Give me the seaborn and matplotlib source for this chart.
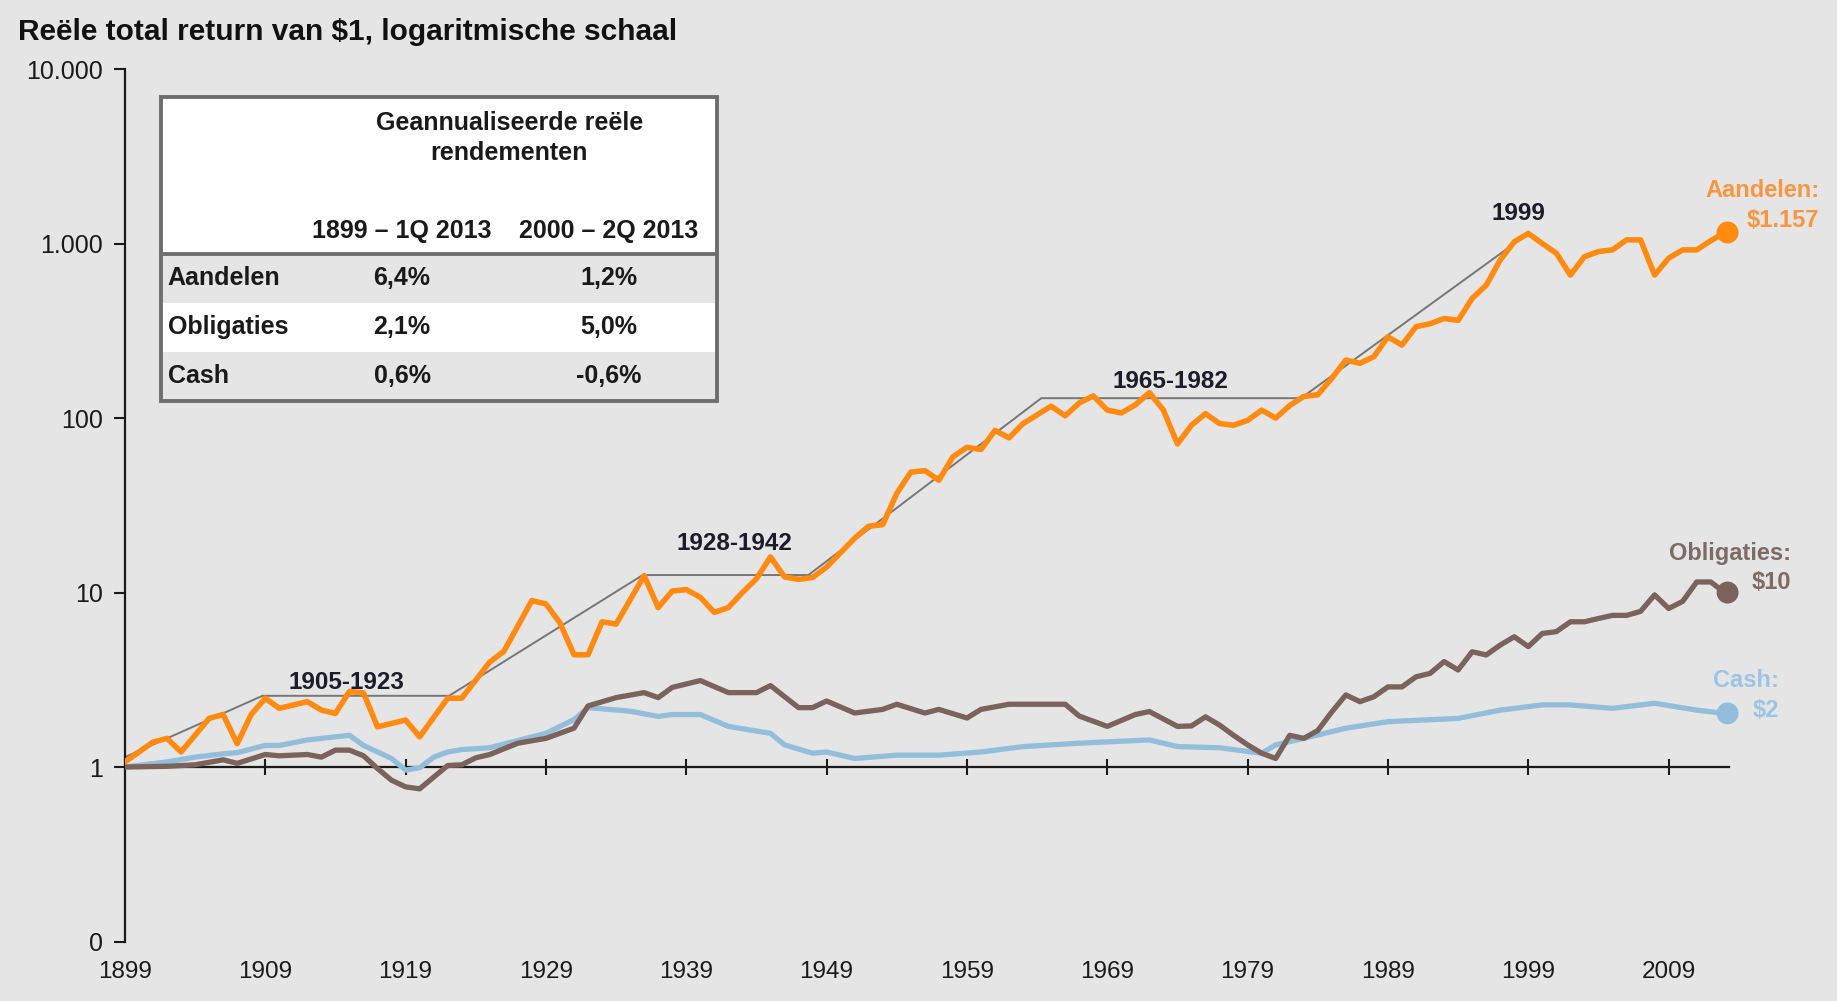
import seaborn as sns
import matplotlib.pyplot as plt
from matplotlib.patches import Rectangle
from matplotlib.ticker import FixedLocator, NullLocator

sns.set_theme(style="ticks")
plt.rcParams['font.family'] = ['Liberation Sans', 'DejaVu Sans']

# Aandelen (stocks)
stock_years = [1899, 1901, 1902, 1903, 1905, 1906, 1907, 1908, 1909, 1910, 1912, 1913,
               1914, 1915, 1916, 1917, 1919, 1920, 1922, 1923, 1925, 1926, 1928, 1929,
               1930, 1931, 1932, 1933, 1934, 1936, 1937, 1938, 1939, 1940, 1941, 1942,
               1943, 1944, 1945, 1946, 1947, 1948, 1949, 1951, 1952, 1953, 1954, 1955,
               1956, 1957, 1958, 1959, 1960, 1961, 1962, 1963, 1965, 1966, 1967, 1968,
               1969, 1970, 1971, 1972, 1973, 1974, 1975, 1976, 1977, 1978, 1979, 1980,
               1981, 1982, 1983, 1984, 1985, 1986, 1987, 1988, 1989, 1990, 1991, 1992,
               1993, 1994, 1995, 1996, 1997, 1998, 1999, 2000, 2001, 2002, 2003, 2004,
               2005, 2006, 2007, 2008, 2009, 2010, 2011, 2012, 2013]
stock_vals = [1.07, 1.39, 1.46, 1.22, 1.9, 2.0, 1.36, 2.0, 2.48, 2.17, 2.37, 2.12,
              2.03, 2.71, 2.66, 1.70, 1.86, 1.49, 2.48, 2.48, 4.0, 4.6, 9.0, 8.6,
              6.7, 4.4, 4.4, 6.8, 6.6, 12.5, 8.2, 10.2, 10.4, 9.4, 7.7, 8.2,
              10.0, 12.0, 16.0, 12.3, 11.9, 12.2, 14.0, 20.5, 24.0, 24.5, 37, 49,
              50, 44, 60, 68, 66, 85, 77, 93, 117, 103, 122, 134,
              111, 107, 119, 140, 111, 71, 91, 106, 93, 91, 97, 111,
              100, 118, 133, 136, 169, 215, 206, 225, 292, 262, 334, 347,
              372, 363, 485, 577, 805, 1024, 1143, 1000, 880, 660, 841, 900,
              920, 1050, 1050, 660, 824, 920, 920, 1038, 1157]

# Obligaties (bonds)
bond_years = [1899, 1902, 1904, 1906, 1907, 1909, 1910, 1912, 1913, 1914, 1915, 1916,
              1917, 1918, 1919, 1920, 1921, 1922, 1923, 1924, 1925, 1927, 1929, 1931,
              1932, 1934, 1936, 1937, 1938, 1940, 1942, 1944, 1945, 1947, 1948, 1949,
              1951, 1953, 1954, 1956, 1957, 1959, 1960, 1962, 1966, 1967, 1969, 1971,
              1972, 1974, 1975, 1976, 1977, 1978, 1979, 1980, 1981, 1982, 1983, 1984,
              1985, 1986, 1987, 1988, 1989, 1990, 1991, 1992, 1993, 1994, 1995, 1996,
              1997, 1998, 1999, 2000, 2001, 2002, 2003, 2004, 2005, 2006, 2007, 2008,
              2009, 2010, 2011, 2012, 2013]
bond_vals = [1.0, 1.01, 1.03, 1.10, 1.05, 1.18, 1.16, 1.18, 1.14, 1.25, 1.25, 1.16,
             0.98, 0.84, 0.77, 0.75, 0.875, 1.02, 1.03, 1.13, 1.18, 1.37, 1.46, 1.67,
             2.24, 2.5, 2.67, 2.5, 2.86, 3.13, 2.67, 2.67, 2.93, 2.19, 2.19, 2.39,
             2.04, 2.14, 2.29, 2.04, 2.14, 1.91, 2.14, 2.29, 2.29, 1.96, 1.71, 2.0,
             2.08, 1.71, 1.72, 1.94, 1.74, 1.52, 1.34, 1.20, 1.12, 1.52, 1.46, 1.62,
             2.07, 2.59, 2.37, 2.53, 2.88, 2.88, 3.29, 3.44, 4.02, 3.6, 4.58, 4.39,
             5.0, 5.58, 4.9, 5.83, 5.97, 6.8, 6.8, 7.1, 7.4, 7.4, 7.8, 9.7,
             8.1, 8.9, 11.5, 11.5, 10.0]

# Cash
cash_years = [1899, 1902, 1904, 1906, 1907, 1909, 1910, 1912, 1914, 1915, 1916, 1918,
              1919, 1920, 1921, 1922, 1923, 1925, 1927, 1929, 1931, 1932, 1935, 1937,
              1938, 1940, 1942, 1945, 1946, 1948, 1949, 1951, 1954, 1957, 1960, 1963,
              1967, 1972, 1974, 1977, 1980, 1981, 1983, 1986, 1989, 1994, 1997, 2000,
              2002, 2005, 2008, 2011, 2013]
cash_vals = [1.0, 1.07, 1.14, 1.19, 1.21, 1.33, 1.33, 1.43, 1.49, 1.52, 1.33, 1.12,
             0.96, 0.99, 1.14, 1.22, 1.26, 1.29, 1.42, 1.56, 1.87, 2.19, 2.09, 1.95,
             2.0, 2.0, 1.71, 1.56, 1.34, 1.2, 1.22, 1.12, 1.17, 1.17, 1.22, 1.31,
             1.37, 1.43, 1.31, 1.29, 1.2, 1.34, 1.46, 1.67, 1.82, 1.9, 2.12, 2.27,
             2.27, 2.17, 2.32, 2.12, 2.03]

# grey trend line with plateaus
trend_years = [1899, 1908.8, 1922.1, 1935.9, 1947.7, 1964.3, 1982.8, 1999]
trend_vals = [1.14, 2.56, 2.56, 12.6, 12.6, 130, 130, 1143]

periods = ["1905-1923", "1928-1942", "1965-1982", "1999"]
period_x = [1914.8, 1942.4, 1973.5, 1998.3]
period_y = [3.04, 19.1, 161, 1489]

x_ticks = [1899, 1909, 1919, 1929, 1939, 1949, 1959, 1969, 1979, 1989, 1999, 2009]
y_ticks = [0.1, 1, 10, 100, 1000, 10000]
y_labels = ["0", "1", "10", "100", "1.000", "10.000"]

tbl_rows = ["Aandelen", "Obligaties", "Cash"]
tbl_col1 = ["6,4%", "2,1%", "0,6%"]
tbl_col2 = ["1,2%", "5,0%", "-0,6%"]
tbl_heads = ["1899 \u2013 1Q 2013", "2000 \u2013 2Q 2013"]

bg = '#E4E5E4'
c_stock, c_bond, c_cash = '#FF8A12', '#7B625A', '#92BEDC'

fig = plt.figure(figsize=(18.37, 10.01), dpi=100, facecolor=bg)
ax = fig.add_axes([0.068, 0.0594, 0.8732, 0.8716])
ax.set_facecolor(bg)
ax.set_yscale('log')

sns.lineplot(x=trend_years, y=trend_vals, ax=ax, color='#767676', linewidth=1.4, zorder=2)
sns.lineplot(x=cash_years, y=cash_vals, ax=ax, color=c_cash, linewidth=3.8, zorder=3)
sns.lineplot(x=bond_years, y=bond_vals, ax=ax, color=c_bond, linewidth=3.8, zorder=4)
sns.lineplot(x=stock_years, y=stock_vals, ax=ax, color=c_stock, linewidth=4.0, zorder=5)

for yrs, vals, col in [(stock_years, stock_vals, c_stock), (bond_years, bond_vals, c_bond),
                       (cash_years, cash_vals, c_cash)]:
    sns.scatterplot(x=[yrs[-1] + 0.2], y=[vals[-1]], ax=ax, color=col, s=250,
                    edgecolor='none', zorder=6, clip_on=False)

ax.set_xlim(1899, 2013.3)
ax.set_ylim(0.1, 10000)
ax.set_xlabel('')
ax.set_ylabel('')

ax.spines[['top', 'right']].set_visible(False)
ax.spines['bottom'].set_position(('data', 1))
for s in ['left', 'bottom']:
    ax.spines[s].set_color('#1A1A1A')
    ax.spines[s].set_linewidth(1.6)

ax.xaxis.set_major_locator(FixedLocator(x_ticks))
ax.set_xticklabels([str(t) for t in x_ticks])
ax.yaxis.set_major_locator(FixedLocator(y_ticks))
ax.yaxis.set_minor_locator(NullLocator())
ax.set_yticklabels(y_labels)
ax.tick_params(axis='x', direction='inout', length=12, width=1.5, pad=134,
               labelsize=17.5, colors='#1A1A1A')
ax.tick_params(axis='y', direction='out', length=8, width=1.5, pad=8,
               labelsize=18, colors='#1A1A1A')

for lab, px, py in zip(periods, period_x, period_y):
    ax.text(px, py, lab, ha='center', va='center', fontsize=17.5,
            fontweight='bold', color='#1C1C2A', zorder=7)

# labels next to the end dots
end_labels = [
    (stock_years[-1], stock_vals[-1], "Aandelen:", "$1.157", '#F7963F', (68, 30), (68, 9)),
    (bond_years[-1], bond_vals[-1], "Obligaties:", "$10", '#7D6B64', (48, 28), (48, 7)),
    (cash_years[-1], cash_vals[-1], "Cash:", "$2", '#9CC4E4', (39, 24), (39, 2)),
]
for ex, ey, name, val, col, off1, off2 in end_labels:
    ax.annotate(name, xy=(ex, ey), xytext=off1, textcoords='offset points', ha='right',
                va='center', fontsize=17, fontweight='bold', color=col)
    ax.annotate(val, xy=(ex, ey), xytext=off2, textcoords='offset points', ha='right',
                va='center', fontsize=17, fontweight='bold', color=col)

fig.text(0.0096, 0.968, "Reële total return van $1, logaritmische schaal",
         fontsize=21.5, fontweight='bold', color='#111111', va='center', ha='left')

# table with annualised returns
tax = fig.add_axes([0.0874, 0.5997, 0.3029, 0.3034], zorder=10)
tax.set_xlim(0, 1)
tax.set_ylim(0, 1)
tax.axis('off')
row_h = 0.161
head_b = 3 * row_h
tax.add_patch(Rectangle((0, head_b), 1, 1 - head_b, facecolor='white', edgecolor='none'))
for i, fc in enumerate([bg, 'white', bg]):
    tax.add_patch(Rectangle((0, head_b - (i + 1) * row_h), 1, row_h, facecolor=fc,
                            edgecolor='none'))
tax.add_patch(Rectangle((0, 0), 1, 1, facecolor='none', edgecolor='#6E6E6E',
                        linewidth=2.8, clip_on=False))
tax.plot([0, 1], [head_b, head_b], color='#6E6E6E', linewidth=2.8, clip_on=False)

tkw = dict(fontsize=18, fontweight='bold', color='#1A1A1A', va='center')
tax.text(0.627, 0.915, "Geannualiseerde reële", ha='center', **tkw)
tax.text(0.627, 0.815, "rendementen", ha='center', **tkw)
tax.text(0.434, 0.56, tbl_heads[0], ha='center', **tkw)
tax.text(0.806, 0.56, tbl_heads[1], ha='center', **tkw)
for i, (r, a, b) in enumerate(zip(tbl_rows, tbl_col1, tbl_col2)):
    yc = head_b - (i + 0.5) * row_h
    tax.text(0.013, yc, r, ha='left', **tkw)
    tax.text(0.434, yc, a, ha='center', **tkw)
    tax.text(0.806, yc, b, ha='center', **tkw)

fig.savefig('out.png', dpi=100, facecolor=bg)
